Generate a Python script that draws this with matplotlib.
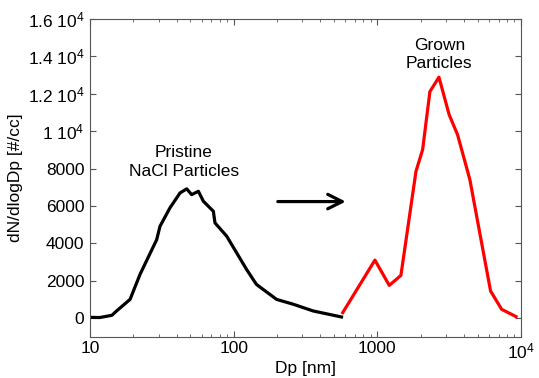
import matplotlib
matplotlib.use("Agg")
import matplotlib.pyplot as plt
from matplotlib.ticker import FixedLocator, LogLocator, NullFormatter

plt.rcParams["font.family"] = ["Liberation Sans", "DejaVu Sans"]
plt.rcParams["mathtext.default"] = "regular"

# pristine NaCl particles
pristine_dp = [10, 11.7, 14.2, 15.3, 19.0, 22.3, 29.1, 30.7, 36.0, 42.3, 47.1,
               51.0, 56.8, 61.5, 72.2, 74.1, 89.4, 123, 144, 199, 260, 358, 563]
pristine_n = [50, 40, 160, 390, 1010, 2350, 4200, 4920, 5900, 6700, 6920,
              6610, 6790, 6260, 5720, 5100, 4390, 2610, 1810, 1010, 750, 390, 70]

# grown particles
grown_dp = [574, 962, 1211, 1459, 1858, 2066, 2322, 2685, 3163, 3620, 4407,
            6140, 7330, 9230]
grown_n = [300, 3110, 1760, 2290, 7860, 9010, 12120, 12890, 10880, 9810, 7410,
           1460, 480, 90]

y_ticks = [0, 2000, 4000, 6000, 8000, 10000, 12000, 14000, 16000]
y_labels = ["0", "2000", "4000", "6000", "8000", "1 10$^4$", "1.2 10$^4$",
            "1.4 10$^4$", "1.6 10$^4$"]
x_ticks = [10, 100, 1000, 10000]
x_labels = ["10", "100", "1000", "10$^4$"]

fig = plt.figure(figsize=(5.39, 3.78), dpi=100)
ax = fig.add_axes([0.167, 0.1085, 0.7996, 0.8412])

ax.plot(pristine_dp, pristine_n, color="black", linewidth=2.3)
ax.plot(grown_dp, grown_n, color="red", linewidth=2.3)

ax.set_xscale("log")
ax.set_xlim(10, 10000)
ax.set_ylim(-1000, 16000)

ax.xaxis.set_major_locator(FixedLocator(x_ticks))
ax.set_xticklabels(x_labels)
ax.xaxis.set_minor_locator(LogLocator(base=10, subs=range(2, 10)))
ax.xaxis.set_minor_formatter(NullFormatter())
ax.set_yticks(y_ticks)
ax.set_yticklabels(y_labels)

ax.tick_params(which="both", direction="in", top=True, right=True,
               labelsize=12.5, color="#555555")
ax.tick_params(which="major", length=4)
ax.tick_params(axis="x", which="major", pad=3)
ax.tick_params(axis="y", which="major", pad=4)
ax.tick_params(which="minor", length=2.5)
for s in ax.spines.values():
    s.set_color("#555555")

ax.set_xlabel("Dp [nm]", fontsize=12.5, labelpad=0)
ax.set_ylabel("dN/dlogDp [#/cc]", fontsize=12.5, labelpad=3)

ax.text(45, 8350, "Pristine\nNaCl Particles", ha="center", va="center",
        fontsize=12.5, linespacing=1.3)
ax.text(2700, 14100, "Grown\nParticles", ha="center", va="center",
        fontsize=12.5, linespacing=1.3)
ax.annotate("", xy=(630, 6240), xytext=(194, 6240),
            arrowprops=dict(arrowstyle="->", color="black", lw=2.3,
                            mutation_scale=26))

fig.savefig("out.png", dpi=100)
